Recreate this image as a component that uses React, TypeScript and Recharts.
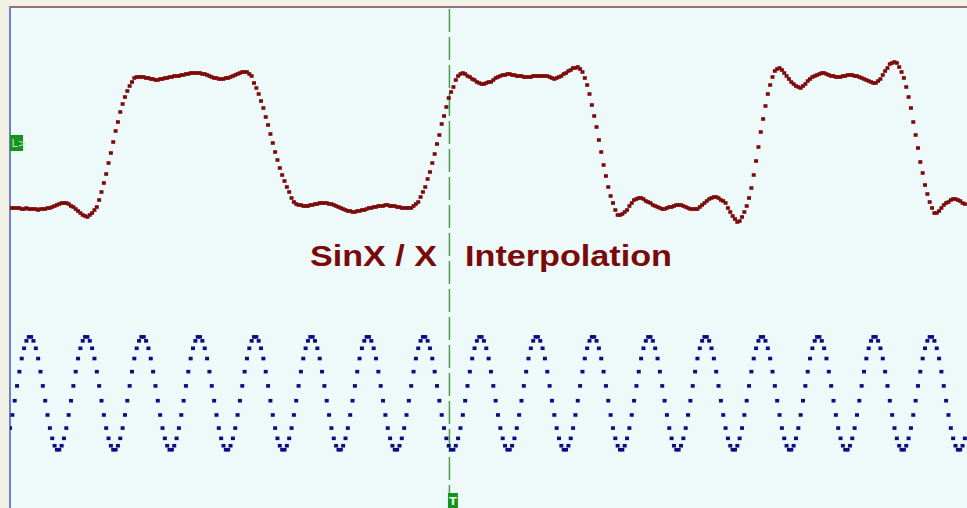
import React from 'react';
import { ComposedChart, Line, XAxis, YAxis, ReferenceLine, ReferenceDot } from 'recharts';

// Time axis: sample index (one sample per interpolated point)
const TIME_SPAN = 407.9;
const TRIGGER_TIME = 187.3;
// Channel 1 (red) values: 0 = low level, ~133 = high level
const TRIGGER_LEVEL = 65;
const RED_DOMAIN: [number, number] = [-300, 201];
// Channel 2 (blue) values: percent of amplitude
const BLUE_DOMAIN: [number, number] = [-201.2, 677.7];

const TITLE_LEFT = 'SinX / X';
const TITLE_RIGHT = 'Interpolation';

const RED = [
  0, 0, 0, 0, 0, -1, -1, 0, -1, -1,
  -1, -1, -2, -1, -1, -1, 0, 0, 1, 2,
  3, 4, 5, 5, 5, 4, 2, 1, -1, -3,
  -5, -7, -8, -9, -7, -5, -2, 1, 8, 16,
  25, 34, 45, 55, 66, 77, 86, 96, 104, 111,
  117, 122, 126, 130, 131, 131, 131, 131, 130, 130,
  129, 129, 128, 128, 129, 129, 130, 130, 131, 131,
  132, 132, 132, 133, 133, 134, 134, 135, 135, 135,
  135, 135, 134, 134, 133, 132, 131, 130, 130, 129,
  129, 129, 130, 130, 131, 132, 133, 134, 135, 136,
  136, 136, 134, 132, 125, 120, 114, 107, 100, 91,
  83, 74, 65, 56, 48, 40, 33, 27, 21, 16,
  10, 6, 4, 3, 3, 2, 2, 2, 3, 3,
  4, 4, 5, 5, 5, 5, 4, 4, 3, 2,
  1, 0, -1, -2, -3, -3, -4, -4, -3, -3,
  -2, -2, -1, 0, 0, 1, 1, 2, 2, 2,
  3, 3, 2, 2, 2, 1, 1, 0, 0, 0,
  0, 0, 2, 4, 6, 11, 16, 21, 29, 36,
  45, 54, 64, 73, 84, 92, 101, 110, 116, 121,
  128, 132, 134, 135, 134, 132, 131, 129, 128, 126,
  125, 124, 124, 125, 126, 126, 128, 130, 131, 132,
  133, 133, 134, 134, 133, 133, 132, 132, 132, 131,
  131, 131, 131, 132, 132, 132, 132, 132, 132, 132,
  131, 130, 129, 130, 131, 132, 134, 135, 137, 138,
  140, 140, 141, 139, 136, 130, 123, 114, 103, 92,
  81, 68, 56, 43, 32, 21, 12, 5, -2, -7,
  -7, -6, -4, -2, 2, 5, 8, 9, 10, 10,
  9, 7, 6, 5, 3, 2, 1, 0, -1, -1,
  0, 1, 1, 2, 3, 3, 3, 2, 1, 0,
  -1, -1, -1, -1, 1, 3, 5, 7, 9, 10,
  11, 11, 10, 8, 7, 5, 0, -4, -8, -11,
  -14, -13, -9, -4, 2, 10, 20, 33, 47, 61,
  76, 89, 102, 114, 123, 131, 137, 139, 140, 138,
  135, 132, 129, 126, 124, 122, 121, 120, 122, 124,
  127, 129, 131, 132, 133, 134, 135, 135, 134, 133,
  132, 132, 131, 131, 131, 132, 132, 133, 133, 133,
  132, 132, 131, 130, 129, 128, 127, 126, 125, 125,
  127, 129, 133, 137, 140, 144, 145, 146, 145, 141,
  136, 130, 121, 111, 100, 86, 73, 60, 46, 35,
  23, 14, 6, 0, -5, -5, -3, 0, 3, 5,
  6, 8, 9, 9, 8, 7, 5, 4,
];

const BLUE = [
  -61, -38, -13, 13, 38, 61, 79, 92, 99, 99, 92, 79, 61, 38, 13, -13, -38, -61, -79, -92, -99, -99, -92, -79,
  -61, -38, -13, 13, 38, 61, 79, 92, 99, 99, 92, 79, 61, 38, 13, -13, -38, -61, -79, -92, -99, -99, -92, -79,
  -61, -38, -13, 13, 38, 61, 79, 92, 99, 99, 92, 79, 61, 38, 13, -13, -38, -61, -79, -92, -99, -99, -92, -79,
  -61, -38, -13, 13, 38, 61, 79, 92, 99, 99, 92, 79, 61, 38, 13, -13, -38, -61, -79, -92, -99, -99, -92, -79,
  -61, -38, -13, 13, 38, 61, 79, 92, 99, 99, 92, 79, 61, 38, 13, -13, -38, -61, -79, -92, -99, -99, -92, -79,
  -61, -38, -13, 13, 38, 61, 79, 92, 99, 99, 92, 79, 61, 38, 13, -13, -38, -61, -79, -92, -99, -99, -92, -79,
  -61, -38, -13, 13, 38, 61, 79, 92, 99, 99, 92, 79, 61, 38, 13, -13, -38, -61, -79, -92, -99, -99, -92, -79,
  -61, -38, -13, 13, 38, 61, 79, 92, 99, 99, 92, 79, 61, 38, 13, -13, -38, -61, -79, -92, -99, -99, -92, -79,
  -61, -38, -13, 13, 38, 61, 79, 92, 99, 99, 92, 79, 61, 38, 13, -13, -38, -61, -79, -92, -99, -99, -92, -79,
  -61, -38, -13, 13, 38, 61, 79, 92, 99, 99, 92, 79, 61, 38, 13, -13, -38, -61, -79, -92, -99, -99, -92, -79,
  -61, -38, -13, 13, 38, 61, 79, 92, 99, 99, 92, 79, 61, 38, 13, -13, -38, -61, -79, -92, -99, -99, -92, -79,
  -61, -38, -13, 13, 38, 61, 79, 92, 99, 99, 92, 79, 61, 38, 13, -13, -38, -61, -79, -92, -99, -99, -92, -79,
  -61, -38, -13, 13, 38, 61, 79, 92, 99, 99, 92, 79, 61, 38, 13, -13, -38, -61, -79, -92, -99, -99, -92, -79,
  -61, -38, -13, 13, 38, 61, 79, 92, 99, 99, 92, 79, 61, 38, 13, -13, -38, -61, -79, -92, -99, -99, -92, -79,
  -61, -38, -13, 13, 38, 61, 79, 92, 99, 99, 92, 79, 61, 38, 13, -13, -38, -61, -79, -92, -99, -99, -92, -79,
  -61, -38, -13, 13, 38, 61, 79, 92, 99, 99, 92, 79, 61, 38, 13, -13, -38, -61, -79, -92, -99, -99, -92, -79,
  -61, -38, -13, 13, 38, 61, 79, 92, 99, 99, 92, 79, 61, 38, 13, -13, -38, -61, -79, -92, -99, -99, -92, -79,
];

const rows = RED.map((r, i) => ({ t: i, red: r, blue: BLUE[i] }));

const makeDot = (color: string) => (props: any) => {
  const { cx, cy, index } = props;
  if (cx == null || cy == null || isNaN(cx) || isNaN(cy)) return <g key={`e${index}`} />;
  return <rect key={`d${index}`} x={cx - 2} y={cy - 1.8} width={4} height={3.6} fill={color} />;
};

const LevelMarker = (props: any) => {
  const { cx, cy } = props;
  return (
    <g>
      <rect x={cx} y={cy - 8} width={13} height={16} fill="#17921f" />
      <text x={cx + 1.5} y={cy + 4} fontSize={11} fontFamily="DejaVu Sans, sans-serif" fill="#b6ecb6">L&gt;</text>
    </g>
  );
};

const TrigMarker = (props: any) => {
  const { cx, cy } = props;
  return (
    <g>
      <rect x={cx - 1.5} y={cy - 15} width={10} height={16} fill="#17921f" />
      <text x={cx + 3.5} y={cy - 3} fontSize={11} fontWeight="bold" textAnchor="middle" fontFamily="DejaVu Sans, sans-serif" fill="#e8ffe8">T</text>
    </g>
  );
};

export default function App() {
  return (
    <div style={{ position: 'fixed', left: 0, top: 0, width: 967, height: 508, background: '#f1f1e6', overflow: 'hidden' }}>
      <div style={{ position: 'absolute', left: 9, top: 6, width: 958, height: 502, background: '#eefafa', borderTop: '2px solid #9c6c7a', borderLeft: '2px solid #6f80c4', boxSizing: 'border-box' }} />
      <div style={{ position: 'absolute', left: 0, top: 0 }}>
        <ComposedChart width={967} height={508} data={rows} margin={{ top: 7, right: 0, bottom: 0, left: 10 }}>
          <XAxis dataKey="t" type="number" domain={[0, TIME_SPAN]} allowDataOverflow hide />
          <YAxis yAxisId="r" type="number" domain={RED_DOMAIN} allowDataOverflow hide />
          <YAxis yAxisId="b" type="number" domain={BLUE_DOMAIN} allowDataOverflow hide />
          <ReferenceLine x={TRIGGER_TIME} yAxisId="r" stroke="#4a9e4a" strokeWidth={1.5} strokeDasharray="23 5" />
          <Line yAxisId="b" dataKey="blue" stroke="none" dot={makeDot('#0b0b82')} activeDot={false} isAnimationActive={false} />
          <Line yAxisId="r" dataKey="red" stroke="none" dot={makeDot('#7d0a0a')} activeDot={false} isAnimationActive={false} />
          <ReferenceDot x={0} y={TRIGGER_LEVEL} yAxisId="r" ifOverflow="visible" shape={LevelMarker} />
          <ReferenceDot x={TRIGGER_TIME} y={RED_DOMAIN[0]} yAxisId="r" ifOverflow="visible" shape={TrigMarker} />
        </ComposedChart>
      </div>
      <svg width={967} height={508} style={{ position: 'absolute', left: 0, top: 0, pointerEvents: 'none' }}>
        <text x={310} y={266} fontFamily="Liberation Sans, Arial, sans-serif" fontWeight="bold" fontSize={29} fill="#7a0a0a" textLength={127} lengthAdjust="spacingAndGlyphs">{TITLE_LEFT}</text>
        <text x={465} y={266} fontFamily="Liberation Sans, Arial, sans-serif" fontWeight="bold" fontSize={29} fill="#7a0a0a" textLength={207} lengthAdjust="spacingAndGlyphs">{TITLE_RIGHT}</text>
      </svg>
    </div>
  );
}
